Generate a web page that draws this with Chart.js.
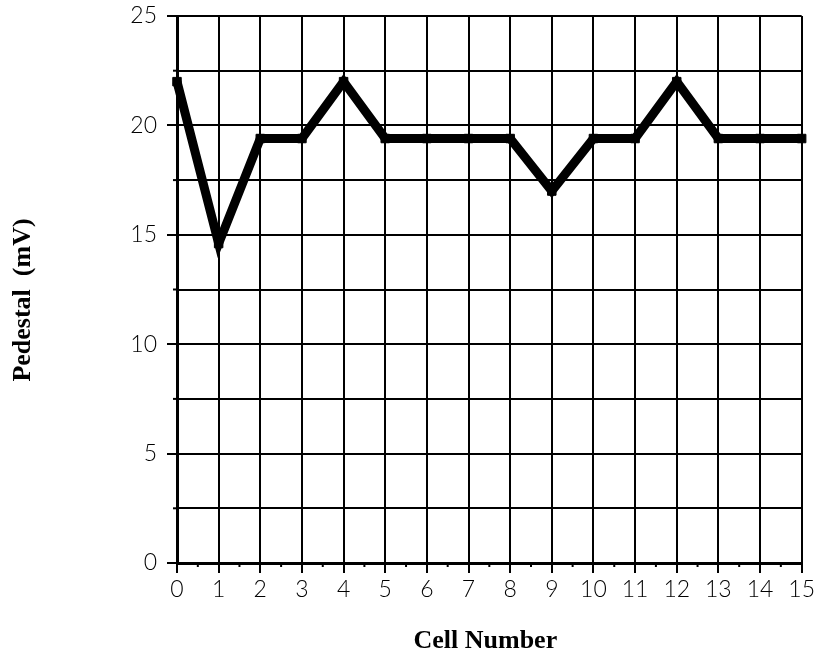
<!DOCTYPE html>
<html>
<head>
<meta charset="utf-8">
<title>Pedestal vs Cell Number</title>
<script src="https://cdn.jsdelivr.net/npm/chart.js@4.4.1/dist/chart.umd.min.js"></script>
<style>
  html, body { margin: 0; padding: 0; background: #fff; }
  #wrap { width: 818px; height: 663px; }
</style>
</head>
<body>
<div id="wrap"><canvas id="chart" width="818" height="663"></canvas></div>
<script>
// data
const cells = [0, 1, 2, 3, 4, 5, 6, 7, 8, 9, 10, 11, 12, 13, 14, 15];
const pedestal = [22, 14.6, 19.4, 19.4, 22, 19.4, 19.4, 19.4, 19.4, 17, 19.4, 19.4, 22, 19.4, 19.4, 19.4];
const xRange = [0, 15];
const yRange = [0, 25];
const xTitle = "Cell Number";
const yTitle = "Pedestal  (mV)";

const ink = "#000";
const tickFont = { family: "Lato, 'DejaVu Sans', sans-serif", size: 23, weight: 300 };

// small in-between ticks + axis titles
const extras = {
    id: "extras",
    afterDraw(chart) {
        const { ctx, chartArea, scales } = chart;
        ctx.save();
        ctx.strokeStyle = ink;
        ctx.lineWidth = 2;
        // half steps on x
        for (let v = xRange[0] + 0.5; v < xRange[1]; v += 1) {
            const px = scales.x.getPixelForValue(v);
            ctx.beginPath();
            ctx.moveTo(px, chartArea.bottom);
            ctx.lineTo(px, chartArea.bottom + 4);
            ctx.stroke();
        }
        // minor steps on y
        for (let v = 2.5; v < yRange[1]; v += 5) {
            const py = scales.y.getPixelForValue(v);
            ctx.beginPath();
            ctx.moveTo(chartArea.left - 4, py);
            ctx.lineTo(chartArea.left, py);
            ctx.stroke();
        }

        ctx.fillStyle = "#000";
        ctx.font = "bold 26px 'Liberation Serif', 'Times New Roman', serif";
        ctx.textAlign = "center";
        ctx.textBaseline = "middle";
        ctx.fillText(xTitle, (chartArea.left + chartArea.right) / 2 - 4, 641);

        ctx.translate(23, 300);
        ctx.rotate(-Math.PI / 2);
        ctx.fillText(yTitle, 0, 0);
        ctx.restore();
    }
};

new Chart(document.getElementById("chart"), {
    type: "line",
    data: {
        datasets: [{
            data: cells.map((c, i) => ({ x: c, y: pedestal[i] })),
            clip: false,
            borderColor: "#000",
            borderWidth: 9,
            borderJoinStyle: "miter",
            tension: 0,
            pointStyle: "rect",
            pointRadius: 6,
            pointBorderWidth: 1,
            pointBackgroundColor: "#000",
            pointBorderColor: "#000"
        }]
    },
    options: {
        responsive: false,
        animation: false,
        layout: { padding: { top: 16, right: 16, left: 0, bottom: 0 } },
        plugins: {
            legend: { display: false },
            tooltip: { enabled: false }
        },
        scales: {
            x: {
                type: "linear",
                min: xRange[0],
                max: xRange[1],
                afterFit(scale) { scale.height = 100; },
                ticks: {
                    stepSize: 1,
                    autoSkip: false,
                    maxRotation: 0,
                    color: "#000",
                    font: tickFont,
                    padding: 3
                },
                grid: {
                    color: ink,
                    lineWidth: 2,
                    tickLength: 10,
                    tickColor: ink,
                    tickWidth: 2
                },
                border: { color: "#000", width: 3 }
            },
            y: {
                min: yRange[0],
                max: yRange[1],
                afterFit(scale) {
                    scale.width = 177;
                    scale.paddingTop = 0;
                },
                ticks: {
                    stepSize: 2.5,
                    autoSkip: false,
                    color: "#000",
                    font: tickFont,
                    padding: 10,
                    callback: v => (v % 5 === 0 ? v : "")
                },
                grid: {
                    color: ink,
                    lineWidth: 2,
                    tickLength: 10,
                    tickWidth: 2,
                    tickColor: c => (c.tick && c.tick.value % 5 === 0 ? ink : "rgba(0,0,0,0)")
                },
                border: { color: "#000", width: 3 }
            }
        }
    },
    plugins: [extras]
});
</script>
</body>
</html>
